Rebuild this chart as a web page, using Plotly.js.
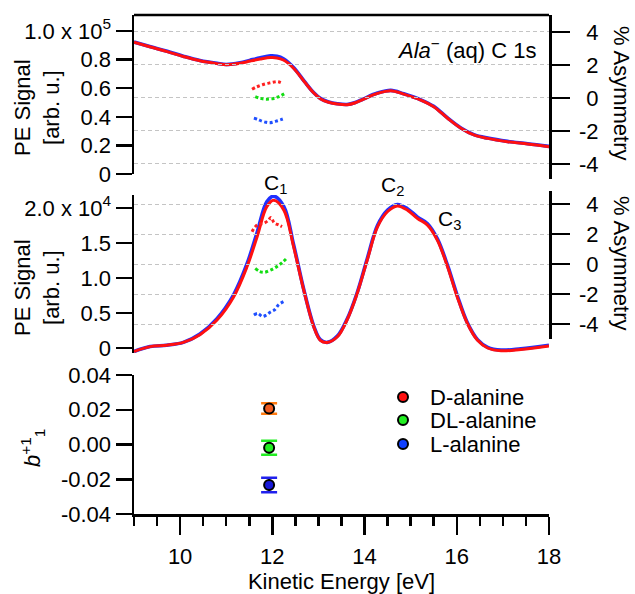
<!DOCTYPE html>
<html>
<head>
<meta charset="utf-8">
<script src="https://cdn.plot.ly/plotly-3.0.1.min.js"></script>
<style>html,body{margin:0;padding:0;background:#fff;}#chart{width:635px;height:594px;}</style>
</head>
<body>
<div id="chart"></div>
<script>
// ---- Panel 1: full C 1s spectrum (PE signal in units of 1e5) ----
const energyTop = [9.0, 9.36, 9.72, 10.07, 10.43, 10.8, 11.0, 11.3, 11.52, 11.74, 11.96, 12.1, 12.24, 12.46, 12.7, 12.9, 13.04, 13.22, 13.41, 13.62, 13.8, 13.98, 14.28, 14.57, 14.85, 15.22, 15.5, 15.8, 16.09, 16.37, 16.67, 17.1, 17.54, 18.0];
const peTopD = [0.921, 0.888, 0.856, 0.822, 0.792, 0.772, 0.764, 0.774, 0.790, 0.804, 0.814, 0.812, 0.797, 0.740, 0.643, 0.566, 0.527, 0.502, 0.489, 0.484, 0.498, 0.524, 0.564, 0.583, 0.559, 0.517, 0.471, 0.390, 0.320, 0.273, 0.249, 0.226, 0.210, 0.191];
const peTopL = [0.923, 0.890, 0.858, 0.824, 0.794, 0.774, 0.766, 0.778, 0.796, 0.813, 0.826, 0.823, 0.806, 0.745, 0.646, 0.568, 0.529, 0.504, 0.491, 0.486, 0.500, 0.526, 0.566, 0.585, 0.561, 0.519, 0.473, 0.392, 0.322, 0.275, 0.251, 0.228, 0.212, 0.193];

// ---- Panel 2: background-subtracted spectrum (PE signal in units of 1e4) ----
const energyMid = [9.0, 9.35, 9.71, 10.07, 10.43, 10.8, 11.16, 11.45, 11.67, 11.88, 12.03, 12.25, 12.46, 12.68, 12.9, 13.04, 13.19, 13.41, 13.62, 13.84, 14.06, 14.28, 14.5, 14.71, 14.93, 15.15, 15.36, 15.58, 15.8, 16.01, 16.23, 16.45, 16.67, 16.96, 17.39, 18.0];
const peMidD = [-0.05, 0.02, 0.04, 0.08, 0.19, 0.40, 0.73, 1.16, 1.59, 2.02, 2.11, 1.97, 1.45, 0.83, 0.30, 0.11, 0.08, 0.16, 0.40, 0.78, 1.26, 1.73, 1.95, 2.03, 1.97, 1.85, 1.76, 1.54, 1.16, 0.73, 0.35, 0.11, 0.00, -0.04, -0.02, 0.03];
const peMidL = [-0.05, 0.02, 0.04, 0.08, 0.20, 0.42, 0.76, 1.20, 1.65, 2.09, 2.17, 2.02, 1.48, 0.84, 0.31, 0.12, 0.08, 0.17, 0.41, 0.79, 1.28, 1.75, 1.97, 2.05, 1.99, 1.87, 1.78, 1.56, 1.18, 0.75, 0.36, 0.12, 0.01, -0.03, -0.01, 0.04];

// ---- Asymmetry (%) across C1 peak, panel 1 ----
const asymTopX_D = [11.56, 11.64, 11.72, 11.80, 11.88, 11.96, 12.04, 12.12, 12.21];
const asymTopD = [0.53, 0.65, 0.74, 0.82, 0.88, 0.92, 0.97, 0.99, 0.90];
const asymTopX_DL = [11.63, 11.71, 11.79, 11.87, 11.95, 12.03, 12.11, 12.19, 12.28];
const asymTopDL = [0.08, 0.00, -0.05, -0.07, -0.06, -0.03, 0.05, 0.15, 0.28];
const asymTopX_L = [11.60, 11.69, 11.77, 11.86, 11.94, 12.03, 12.11, 12.20, 12.28];
const asymTopL = [-1.22, -1.30, -1.40, -1.47, -1.50, -1.45, -1.38, -1.30, -1.22];

// ---- Asymmetry (%) across C1 peak, panel 2 ----
const asymMidX_D = [11.56, 11.63, 11.72, 11.81, 11.92, 11.97, 12.04, 12.14, 12.21];
const asymMidD = [2.15, 2.49, 2.67, 2.71, 2.93, 3.11, 2.75, 2.60, 2.49];
const asymMidX_DL = [11.63, 11.73, 11.83, 11.93, 12.03, 12.13, 12.23, 12.31];
const asymMidDL = [-0.29, -0.50, -0.55, -0.45, -0.30, -0.10, 0.15, 0.38];
const asymMidX_L = [11.60, 11.69, 11.78, 11.87, 11.96, 12.05, 12.14, 12.25];
const asymMidL = [-3.40, -3.30, -3.50, -3.40, -3.20, -3.05, -2.70, -2.50];

// ---- Panel 3: b1^{+1} values ----
const samples = ['D-alanine', 'DL-alanine', 'L-alanine'];
const bEnergy = [11.93, 11.93, 11.93];
const bValue = [0.0207, -0.0019, -0.0233];
const bError = [0.003, 0.004, 0.0042];

// ---- tick labels ----
const peTopTicks = [0, 0.2, 0.4, 0.6, 0.8, 1.0];
const peTopText = ['0', '0.2', '0.4', '0.6', '0.8', '1.0 x 10<sup>5</sup>'];
const peMidTicks = [0, 0.5, 1.0, 1.5, 2.0];
const peMidText = ['0', '0.5', '1.0', '1.5', '2.0 x 10<sup>4</sup>'];
const asymTicks = [-4, -2, 0, 2, 4];
const asymText = asymTicks.map(v => v < 0 ? String(v) : '\u2004' + v);
const bTicks = [-0.04, -0.02, 0, 0.02, 0.04];
const bText = ['-0.04', '-0.02', '0.00', '0.02', '0.04'];
const bGrid = [-0.02, 0, 0.02];

const cRed = '#ff1010', cBlue = '#2030ff';
const dotRed = '#ff2020', dotGreen = '#12dd12', dotBlue = '#1f4fff';
const markFill = ['#f05a1e', '#22ee22', '#1818d8'];
const barCol = ['#ff7a10', '#22ee22', '#2020ee'];
const legendCol = ['#ff1010', '#22ee22', '#1040ff'];

const traces = [];
traces.push({x: energyTop, y: peTopL, xaxis: 'x', yaxis: 'y', mode: 'lines', line: {color: cBlue, width: 3.6, shape: 'spline'}, hoverinfo: 'skip'});
traces.push({x: energyTop, y: peTopD, xaxis: 'x', yaxis: 'y', mode: 'lines', line: {color: cRed, width: 3, shape: 'spline'}, hoverinfo: 'skip'});
[[asymTopX_D, asymTopD, dotRed], [asymTopX_DL, asymTopDL, dotGreen], [asymTopX_L, asymTopL, dotBlue]].forEach(([xs, ys, c]) => {
  traces.push({x: xs, y: ys, xaxis: 'x', yaxis: 'y2', mode: 'lines', line: {color: c, width: 3, dash: '3px,2.5px', shape: 'spline'}, hoverinfo: 'skip'});
});
traces.push({x: energyMid, y: peMidL, xaxis: 'x', yaxis: 'y3', mode: 'lines', line: {color: cBlue, width: 3.6, shape: 'spline'}, hoverinfo: 'skip'});
traces.push({x: energyMid, y: peMidD, xaxis: 'x', yaxis: 'y3', mode: 'lines', line: {color: cRed, width: 3, shape: 'spline'}, hoverinfo: 'skip'});
[[asymMidX_D, asymMidD, dotRed], [asymMidX_DL, asymMidDL, dotGreen], [asymMidX_L, asymMidL, dotBlue]].forEach(([xs, ys, c]) => {
  traces.push({x: xs, y: ys, xaxis: 'x', yaxis: 'y4', mode: 'lines', line: {color: c, width: 3, dash: '3px,2.5px', shape: 'spline'}, hoverinfo: 'skip'});
});
samples.forEach((s, i) => {
  traces.push({x: [bEnergy[i]], y: [bValue[i]], xaxis: 'x', yaxis: 'y5', mode: 'markers', name: s,
    error_y: {type: 'data', array: [bError[i]], color: barCol[i], thickness: 2.5, width: 8},
    marker: {size: 10, color: markFill[i], line: {color: '#000', width: 2}}, hoverinfo: 'skip'});
});

const F = 'Liberation Sans, Arial, Helvetica, sans-serif';
const fontT = {family: F, size: 22, color: '#000'};
const fontC = {family: F, size: 21, color: '#000'};
const H = 594, mt = 15, mb = 80, ph = H - mt - mb;
const py = px => (H - mb - px) / ph;            // pixel row -> paper y
const pxX = px => (px - 134) / (635 - 134 - 86);  // pixel col -> paper x

const leftAxis = (domain, range, tv, tt) => ({
  domain, range, anchor: 'x', side: 'left', showline: true, linecolor: '#000', linewidth: 2.5,
  ticks: 'outside', ticklen: 16, tickwidth: 2.5, tickcolor: '#000', tickvals: tv, ticktext: tt,
  tickfont: fontT, showgrid: false, zeroline: false, fixedrange: true
});
const rightAxis = (domain, range) => ({
  domain, range, anchor: 'x', side: 'right', showline: true, linecolor: '#000', linewidth: 2.5,
  ticks: 'outside', ticklen: 18, tickwidth: 2.5, tickcolor: '#000', tickvals: asymTicks, ticktext: asymText,
  tickfont: fontT, ticklabelstandoff: 5, showgrid: true, gridcolor: '#c4c4c4', gridwidth: 1, griddash: '4px,3px',
  zeroline: false, fixedrange: true
});

const legendRows = [397, 420, 444];
const shapes = [
  {type: 'line', xref: 'paper', yref: 'paper', x0: 0, x1: 1, y0: 1, y1: 1, line: {color: '#000', width: 2.5}}
];
const annotations = [
  {text: '<i>Ala</i><sup>\u2212</sup> (aq) C 1s', xref: 'paper', yref: 'paper', x: pxX(538), y: py(49), xanchor: 'right', yanchor: 'middle', showarrow: false, font: fontT},
  {text: 'C<sub>1</sub>', xref: 'x', yref: 'paper', x: 12.07, y: py(184), xanchor: 'center', yanchor: 'middle', showarrow: false, font: fontC},
  {text: 'C<sub>2</sub>', xref: 'x', yref: 'paper', x: 14.6, y: py(186), xanchor: 'center', yanchor: 'middle', showarrow: false, font: fontC},
  {text: 'C<sub>3</sub>', xref: 'x', yref: 'paper', x: 15.85, y: py(220), xanchor: 'center', yanchor: 'middle', showarrow: false, font: fontC},
  {text: '% Asymmetry', xref: 'paper', yref: 'paper', x: pxX(622), y: py(93), xanchor: 'center', yanchor: 'middle', textangle: 90, showarrow: false, font: fontT},
  {text: '% Asymmetry', xref: 'paper', yref: 'paper', x: pxX(622), y: py(263), xanchor: 'center', yanchor: 'middle', textangle: 90, showarrow: false, font: fontT},
  {text: 'PE Signal<br>[arb. u.]', xref: 'paper', yref: 'paper', x: pxX(37), y: py(108), xanchor: 'center', yanchor: 'middle', textangle: -90, showarrow: false, font: fontT},
  {text: 'PE Signal<br>[arb. u.]', xref: 'paper', yref: 'paper', x: pxX(37), y: py(288), xanchor: 'center', yanchor: 'middle', textangle: -90, showarrow: false, font: fontT},
  {text: '<i>b</i><sup>+1</sup><sub>1</sub>', xref: 'paper', yref: 'paper', x: pxX(32), y: py(448), xanchor: 'center', yanchor: 'middle', textangle: -90, showarrow: false, font: fontT}
];
samples.forEach((s, i) => {
  shapes.push({type: 'circle', xref: 'paper', yref: 'paper', xsizemode: 'pixel', ysizemode: 'pixel',
    xanchor: pxX(403), yanchor: py(legendRows[i]), x0: -5, x1: 5, y0: -5, y1: 5,
    fillcolor: legendCol[i], line: {color: '#000', width: 2}});
  annotations.push({text: s, xref: 'paper', yref: 'paper', x: pxX(428), y: py(legendRows[i]), xanchor: 'left', yanchor: 'middle', showarrow: false, font: fontT});
});

const layout = {
  width: 635, height: 594,
  margin: {l: 134, r: 86, t: mt, b: mb},
  paper_bgcolor: '#fff', plot_bgcolor: 'rgba(0,0,0,0)',
  font: fontT,
  showlegend: false,
  xaxis: {domain: [0, 1], range: [9, 18], anchor: 'y5', showline: true, linecolor: '#000', linewidth: 2.5,
    ticks: 'outside', ticklen: 18, tickwidth: 2.5, tickcolor: '#000', tick0: 0, dtick: 2,
    minor: {dtick: 0.5, ticks: 'outside', ticklen: 9, tickwidth: 2.5, tickcolor: '#000', showgrid: false},
    tickfont: fontT, ticklabelstandoff: 3, showgrid: false, zeroline: false, fixedrange: true,
    title: {text: 'Kinetic Energy [eV]', font: fontT, standoff: 6}},
  yaxis: leftAxis([py(174), 1], [0, 1.112], peTopTicks, peTopText),
  yaxis2: rightAxis([py(179), 1], [-4.91, 5.03]),
  yaxis3: leftAxis([py(353), py(195)], [-0.0714, 2.186], peMidTicks, peMidText),
  yaxis4: rightAxis([py(339), py(191)], [-5.0, 4.87]),
  yaxis5: leftAxis([0, py(375)], [-0.04, 0.04], bTicks, bText),
  yaxis6: {overlaying: 'y5', anchor: 'x', side: 'right', range: [-0.04, 0.04], showline: true, linecolor: '#000', linewidth: 2.5,
    ticks: '', showticklabels: false, tickvals: bGrid, showgrid: true, gridcolor: '#c4c4c4', gridwidth: 1, griddash: '4px,3px',
    zeroline: false, fixedrange: true},
  shapes, annotations
};

Plotly.newPlot('chart', traces, layout, {displayModeBar: false, staticPlot: true});
</script>
</body>
</html>
